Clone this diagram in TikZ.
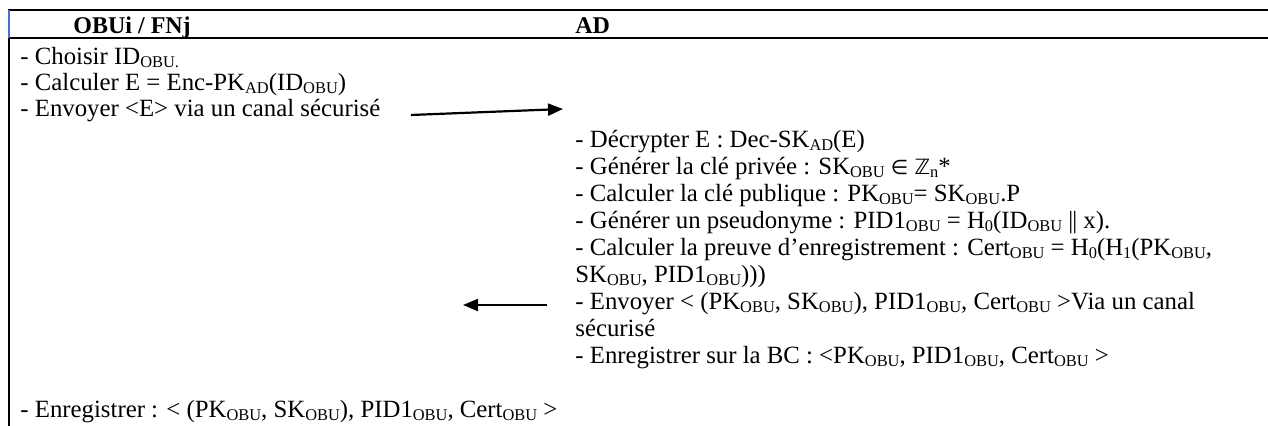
\documentclass[tikz,border=0pt]{standalone}
\usepackage{fontspec}
\setmainfont{Liberation Serif}
\newfontfamily\symfnt{DejaVu Sans}
\usetikzlibrary{arrows.meta}
\definecolor{wordblue}{RGB}{68,114,196}
% lowered small text used for indices (ID_OBU, SK_AD, H_0 ...)
\newcommand\lo[1]{\raisebox{-1.3pt}{\fontsize{8.2}{8.2}\selectfont #1}}
\tikzset{
  txt/.style={anchor=base west, inner sep=0pt, font=\fontsize{12.4}{12.4}\selectfont},
  hdr/.style={anchor=base west, inner sep=0pt, font=\fontsize{12}{12}\selectfont\bfseries},
  rule/.style={line width=1pt, line cap=rect},
  msg/.style={line width=1.1pt, -{Triangle[length=7.5pt,width=6pt]}}
}
\begin{document}
\begin{tikzpicture}[x=0.5pt, y=-0.5pt]
\useasboundingbox (0,0) rectangle (1268,426);
% table frame
\draw[rule] (9,10) -- (1268,10);
\draw[rule] (9,38) -- (1268,38);
\draw[rule, wordblue, line cap=butt] (9,10) -- (9,38);
\draw[rule, line cap=butt] (9,38) -- (9,426);
% column headers
\node[hdr] (hL) at (73,34) {OBUi / FNj};
\node[hdr] (hR) at (575,34) {AD};
% OBU / FN column
\node[txt] (l1) at (20,65) {- Choisir ID\lo{OBU.}};
\node[txt] (l2) at (20,91) {- Calculer E = Enc-PK\lo{AD}(ID\lo{OBU})};
\node[txt] (l3) at (20,117) {- Envoyer <E> via un canal sécurisé};
\node[txt] (l4) at (20,418) {- Enregistrer : < (PK\lo{OBU}, SK\lo{OBU}), PID1\lo{OBU}, Cert\lo{OBU} >};
% AD column
\node[txt] (r1) at (575,148) {- Décrypter E : Dec-SK\lo{AD}(E)};
\node[txt] (r2) at (575,175) {- Générer la clé privée : SK\lo{OBU} {\symfnt\fontsize{10}{10}\selectfont ∈} {\symfnt\fontsize{10.5}{10.5}\selectfont ℤ}\lo{n}*};
\node[txt] (r3) at (575,202) {- Calculer la clé publique : PK\lo{OBU}= SK\lo{OBU}.P};
\node[txt] (r4) at (575,229) {- Générer un pseudonyme : PID1\lo{OBU} = H\lo{0}(ID\lo{OBU} |\kern-0.5pt| x).};
\node[txt] (r5) at (575,256) {- Calculer la preuve d’enregistrement : Cert\lo{OBU} = H\lo{0}(H\lo{1}(PK\lo{OBU},};
\node[txt] (r6) at (575,283) {SK\lo{OBU}, PID1\lo{OBU})))};
\node[txt] (r7) at (575,310) {- Envoyer < (PK\lo{OBU}, SK\lo{OBU}), PID1\lo{OBU}, Cert\lo{OBU} >Via un canal};
\node[txt] (r8) at (575,337) {sécurisé};
\node[txt] (r9) at (575,364) {- Enregistrer sur la BC : <PK\lo{OBU}, PID1\lo{OBU}, Cert\lo{OBU} >};
% message arrows
\coordinate (m1s) at (411,115);
\coordinate (m1e) at (563,109);
\coordinate (m2s) at (547,305);
\coordinate (m2e) at (463,305);
\draw[msg] (m1s) -- (m1e);
\draw[msg] (m2s) -- (m2e);
\end{tikzpicture}
\end{document}
